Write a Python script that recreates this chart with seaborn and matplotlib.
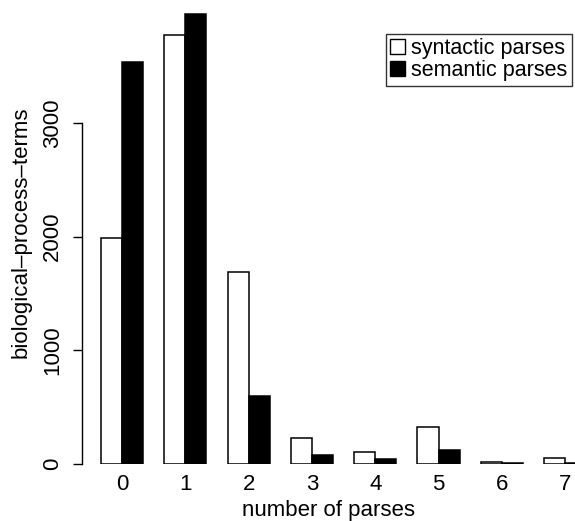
import pandas as pd
import matplotlib.pyplot as plt
import seaborn as sns
from matplotlib.patches import Patch

# Data
parses = ["0", "1", "2", "3", "4", "5", "6", "7"]
syntactic = [1985, 3770, 1690, 230, 105, 325, 20, 55]
semantic = [3540, 3955, 600, 75, 40, 125, 5, 10]

data = pd.DataFrame({
    "parses": parses * 2,
    "count": syntactic + semantic,
    "type": ["syntactic parses"] * len(parses) + ["semantic parses"] * len(parses),
})

sns.set_style("white")
plt.rcParams["font.family"] = ["Liberation Sans", "DejaVu Sans"]
plt.rcParams["text.color"] = "black"
plt.rcParams["axes.labelcolor"] = "black"
plt.rcParams["xtick.color"] = "black"
plt.rcParams["ytick.color"] = "black"
plt.rcParams["axes.edgecolor"] = "black"
fs = 16

fig = plt.figure(figsize=(5.75, 5.21), dpi=100)
ax = fig.add_axes([82 / 575, 57 / 521, 493 / 575, 464 / 521])

sns.barplot(
    data=data,
    x="parses",
    y="count",
    hue="type",
    palette=["white", "black"],
    edgecolor="black",
    linewidth=1.1,
    width=2 / 3,
    gap=0,
    ax=ax,
)

ax.set_xlim(-0.632, 7.156)
ax.set_ylim(0, 4081)

# R-like axes: no box, y axis line only between first and last tick
for side in ["top", "right", "bottom"]:
    ax.spines[side].set_visible(False)
ax.spines["left"].set_bounds(0, 3000)
ax.spines["left"].set_linewidth(1)
ax.set_yticks([0, 1000, 2000, 3000])
ax.set_yticklabels(["0", "1000", "2000", "3000"], rotation=90, va="center")
ax.tick_params(axis="y", length=6.5, width=1, labelsize=fs, pad=7, left=True)
ax.tick_params(axis="x", length=0, labelsize=fs, pad=7)

ax.set_xlabel("number of parses", fontsize=fs, labelpad=4)
ax.set_ylabel("biological\u2013process\u2013terms", fontsize=fs, labelpad=8)

handles = [
    Patch(facecolor="white", edgecolor="black", label="syntactic parses"),
    Patch(facecolor="black", edgecolor="black", label="semantic parses"),
]
leg = ax.legend(
    handles=handles,
    loc="upper right",
    bbox_to_anchor=(0.994, 0.927),
    fontsize=15.5,
    frameon=True,
    fancybox=False,
    handlelength=0.7,
    handleheight=0.7,
    handletextpad=0.3,
    borderpad=0.2,
    labelspacing=0.05,
    borderaxespad=0,
)
leg.get_frame().set_edgecolor("black")
leg.get_frame().set_linewidth(1)

fig.savefig("out.png", dpi=100)
